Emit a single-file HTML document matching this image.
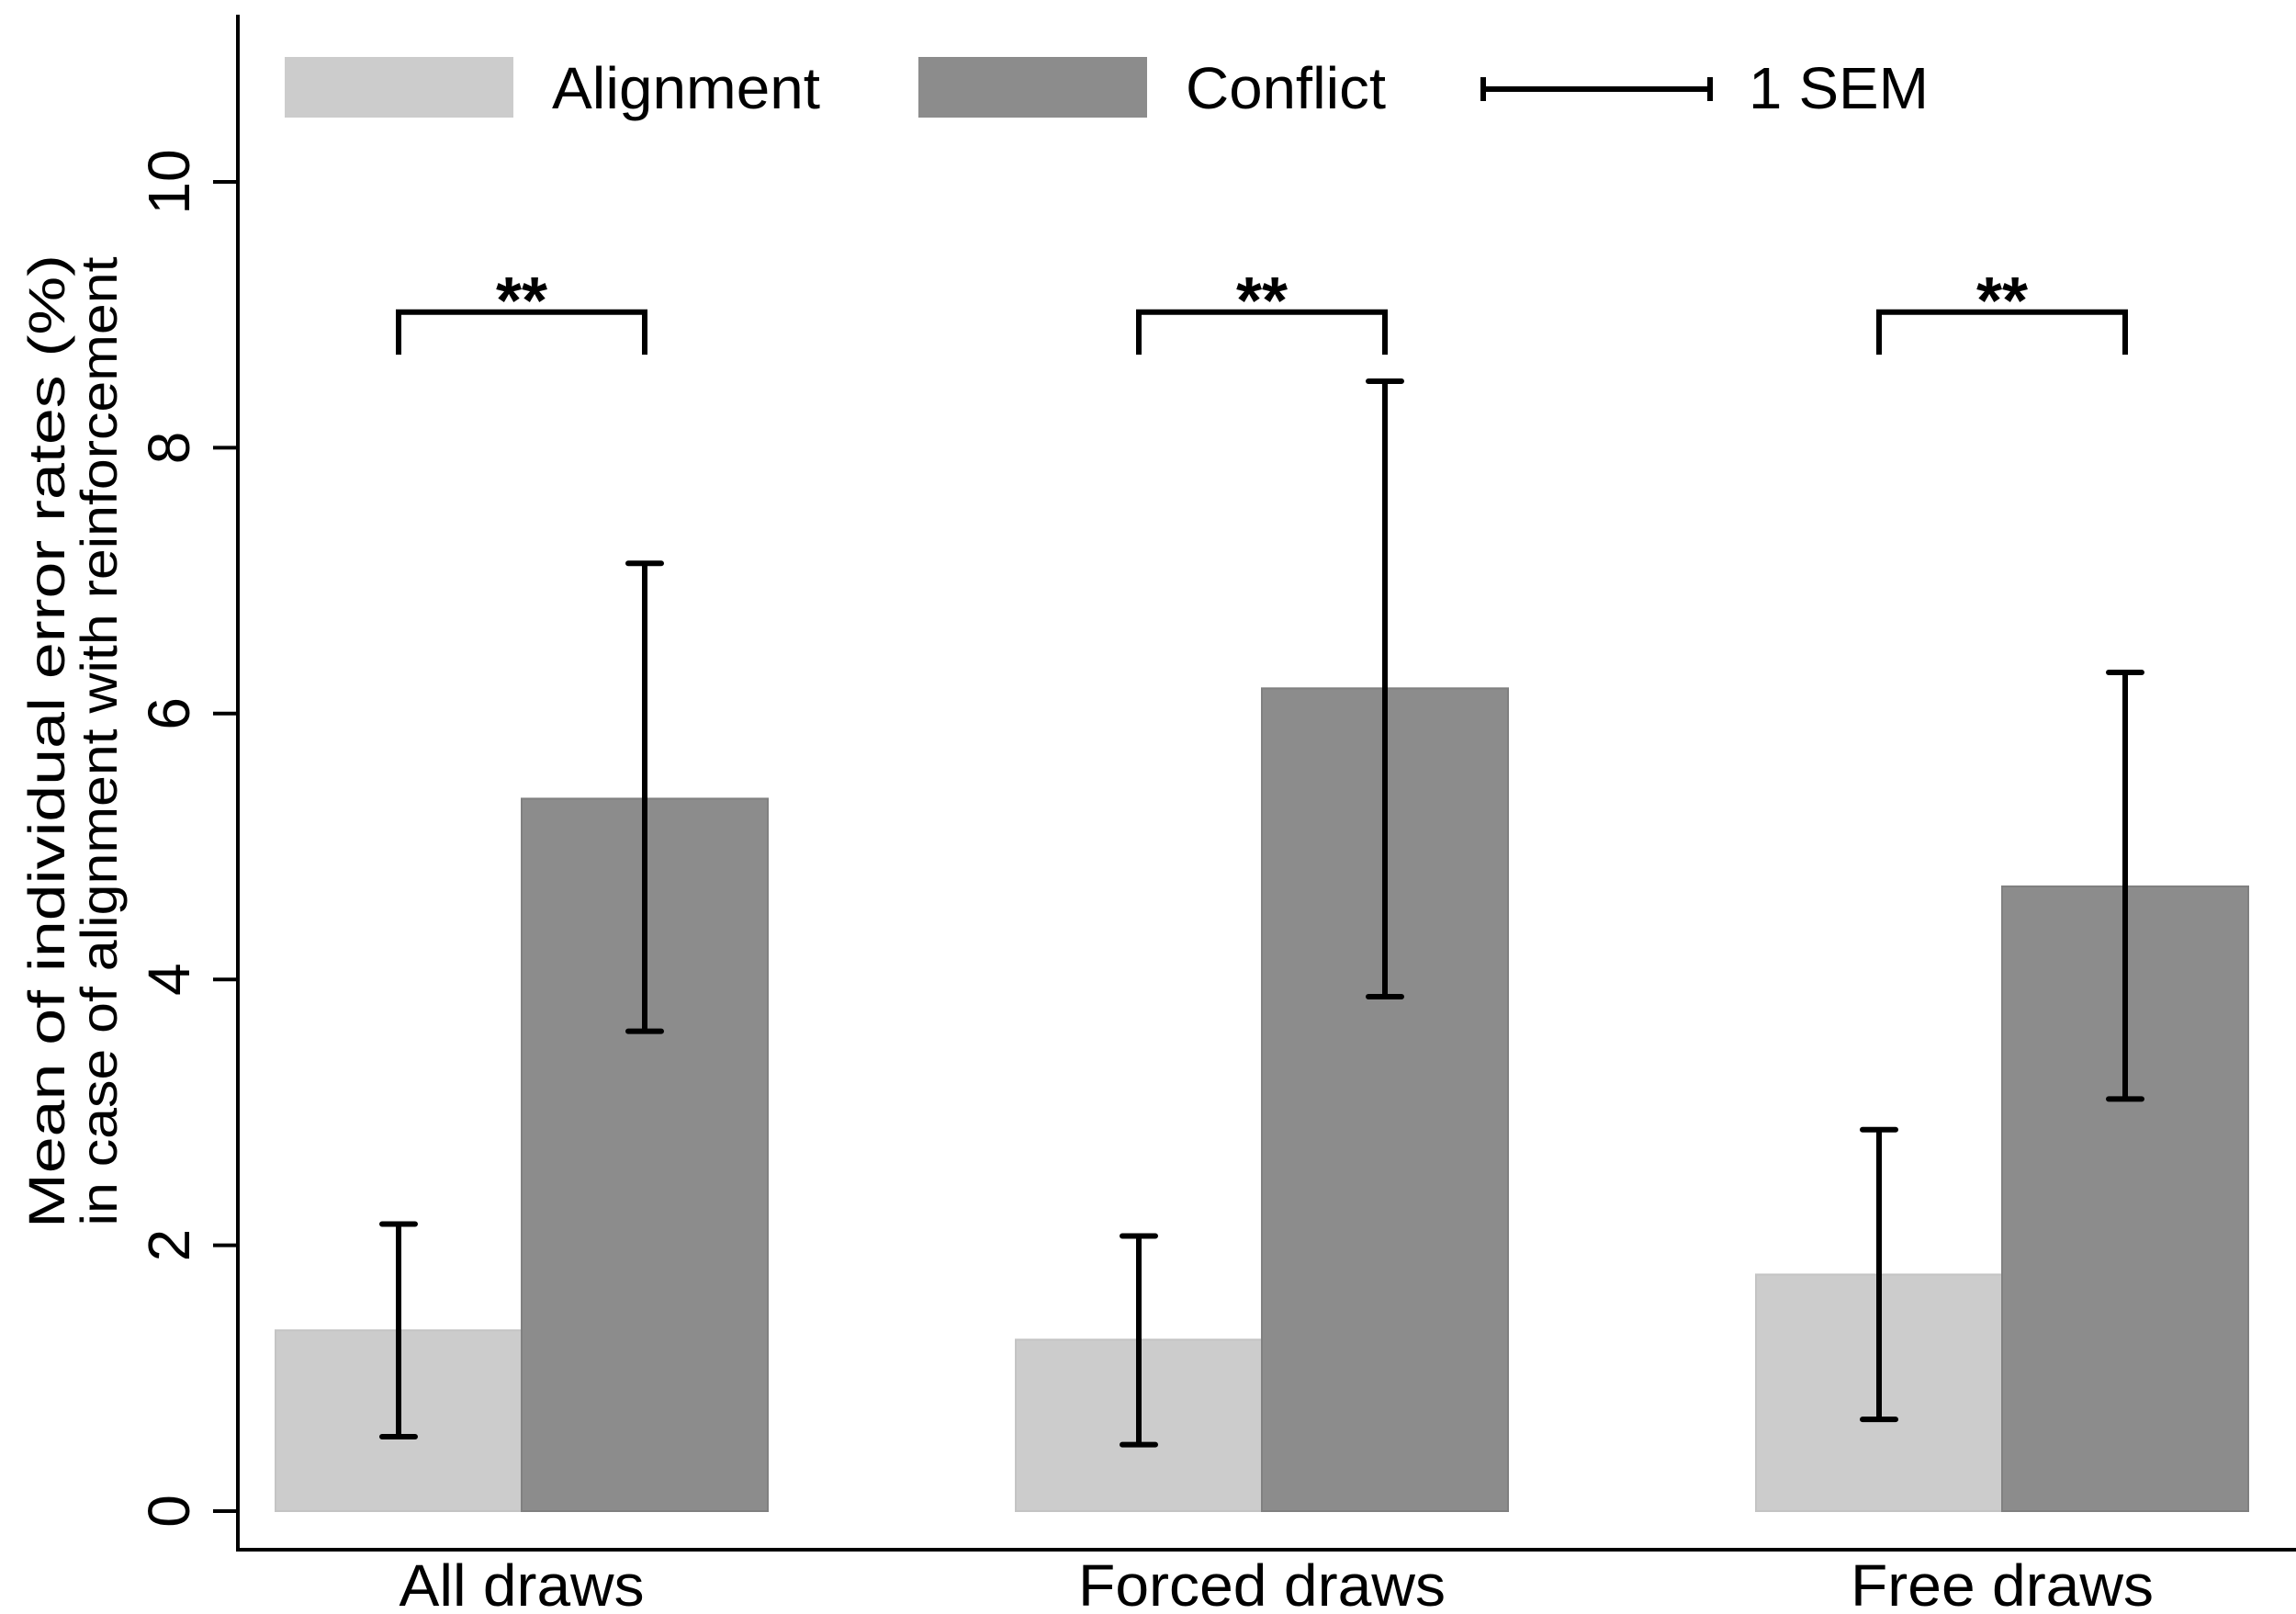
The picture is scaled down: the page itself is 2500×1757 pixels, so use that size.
<!DOCTYPE html>
<html><head><meta charset="utf-8"><style>html,body{margin:0;padding:0;background:#fff}svg{display:block}text{font-family:"Liberation Sans",sans-serif;fill:#000}</style></head>
<body>
<svg id="chart" width="2500" height="1757" viewBox="0 0 2500 1757" xmlns="http://www.w3.org/2000/svg">
<g id="legend">
<rect x="310" y="62" width="249" height="66" fill="#cccccc"/>
<text x="601" y="118" font-size="64" textLength="292" lengthAdjust="spacingAndGlyphs">Alignment</text>
<rect x="1000" y="62" width="249" height="66" fill="#8c8c8c"/>
<text x="1291" y="118" font-size="64" textLength="218" lengthAdjust="spacingAndGlyphs">Conflict</text>
<path d="M1615 97H1862M1615 84V110M1862 84V110" stroke="#000" stroke-width="6" fill="none"/>
<text x="1904" y="118" font-size="64" textLength="196" lengthAdjust="spacingAndGlyphs">1 SEM</text>
</g>
<g id="plot"></g>
</svg>
<script>
const categories = ["All draws", "Forced draws", "Free draws"];
const alignmentValues = [1.36, 1.29, 1.78];
const conflictValues = [5.36, 6.19, 4.70];
const alignmentLow = [0.56, 0.50, 0.69];
const alignmentHigh = [2.16, 2.07, 2.87];
const conflictLow = [3.61, 3.87, 3.10];
const conflictHigh = [7.13, 8.50, 6.31];
const yTicks = [0, 2, 4, 6, 8, 10];
const sigLabels = ["**", "**", "**"];
const sigLevel = 9.02;

const NS = "http://www.w3.org/2000/svg";
const g = document.getElementById('plot');
const y = v => 1645 - v * 144.7;
const groupX = i => 300 + i * 806;
const barW = 268;
function mk(tag, attrs, text) {
  const e = document.createElementNS(NS, tag);
  for (const k in attrs) e.setAttribute(k, attrs[k]);
  if (text !== undefined) e.textContent = text;
  g.appendChild(e);
  return e;
}
let ax = mk('path', {d: 'M259 16V1687H2500', stroke: '#000', 'stroke-width': 4, fill: 'none'});


yTicks.forEach(t => {
  const tk = mk('line', {x1: 232, x2: 259, y1: y(t), y2: y(t), stroke: '#000', 'stroke-width': 4});
  
  
  const lb = mk('text', {x: 0, y: 0, 'font-size': 64, 'text-anchor': 'middle', transform: `translate(206 ${y(t)}) rotate(-90)`}, String(t));
  
  
});
const t1 = mk('text', {x: 0, y: 0, 'font-size': 56, 'text-anchor': 'middle', transform: 'translate(70 807) rotate(-90)', textLength: 1060, lengthAdjust: 'spacingAndGlyphs'}, 'Mean of individual error rates (%)');


const t2 = mk('text', {x: 0, y: 0, 'font-size': 56, 'text-anchor': 'middle', transform: 'translate(127 807) rotate(-90)', textLength: 1055, lengthAdjust: 'spacingAndGlyphs'}, 'in case of alignment with reinforcement');



function errbar(cx, lo, hi, name) {
  const p = mk('path', {d: `M${cx} ${y(lo)}V${y(hi)}M${cx-18} ${y(lo)}H${cx+18}M${cx-18} ${y(hi)}H${cx+18}`, stroke: '#000', 'stroke-width': 6, 'stroke-linecap': 'round', fill: 'none'});
  
  
}
categories.forEach((c, i) => {
  const x0 = groupX(i);
  const b1 = mk('rect', {x: x0, y: y(alignmentValues[i]), width: barW, height: y(0) - y(alignmentValues[i]), fill: '#cccccc', stroke: '#c4c4c4', 'stroke-width': 2});
  
  
  const b2 = mk('rect', {x: x0 + barW, y: y(conflictValues[i]), width: barW, height: y(0) - y(conflictValues[i]), fill: '#8c8c8c', stroke: '#808080', 'stroke-width': 2});
  
  
  const c1 = x0 + barW / 2, c2 = x0 + barW * 1.5;
  errbar(c1, alignmentLow[i], alignmentHigh[i], 'error-bar-alignment-' + (i + 1));
  errbar(c2, conflictLow[i], conflictHigh[i], 'error-bar-conflict-' + (i + 1));
  const br = mk('path', {d: `M${c1} ${y(sigLevel - 0.32)}V${y(sigLevel)}H${c2}V${y(sigLevel - 0.32)}`, stroke: '#000', 'stroke-width': 6, fill: 'none'});
  
  
  const st = mk('text', {x: (c1 + c2) / 2, y: y(sigLevel) + 12, 'font-size': 72, 'text-anchor': 'middle', 'font-weight': 'bold'}, sigLabels[i]);
  
  
  const xl = mk('text', {x: x0 + barW, y: 1748, 'font-size': 64, 'text-anchor': 'middle', textLength: [267, 400, 330][i], lengthAdjust: 'spacingAndGlyphs'}, c);
  
  
});
</script>
</body></html>
